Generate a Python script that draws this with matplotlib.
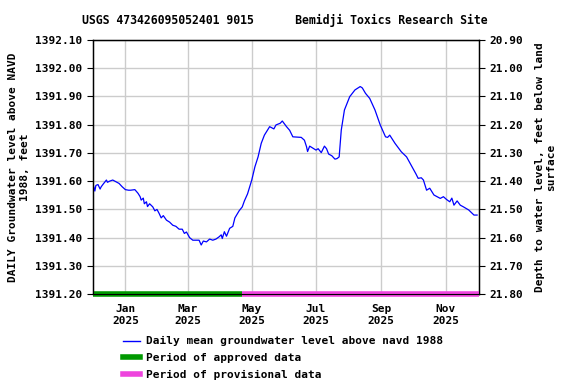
import matplotlib
matplotlib.use("Agg")
import matplotlib.pyplot as plt
from matplotlib.lines import Line2D
import datetime as dt

# ---- data ----
dates = [
    "2024-12-01", "2024-12-02", "2024-12-03", "2024-12-04", "2024-12-06", "2024-12-08", "2024-12-09",
    "2024-12-11", "2024-12-14", "2024-12-15", "2024-12-17", "2024-12-20", "2024-12-23", "2024-12-26",
    "2024-12-29", "2025-01-01", "2025-01-04", "2025-01-06", "2025-01-10", "2025-01-13", "2025-01-15",
    "2025-01-16", "2025-01-18", "2025-01-19", "2025-01-21", "2025-01-22", "2025-01-24", "2025-01-27",
    "2025-01-29", "2025-01-31", "2025-02-02", "2025-02-04", "2025-02-06", "2025-02-09", "2025-02-12",
    "2025-02-15", "2025-02-18", "2025-02-21", "2025-02-24", "2025-02-26", "2025-02-28", "2025-03-03",
    "2025-03-06", "2025-03-09", "2025-03-12", "2025-03-14", "2025-03-16", "2025-03-19", "2025-03-22",
    "2025-03-25", "2025-03-28", "2025-03-31", "2025-04-02", "2025-04-03", "2025-04-05", "2025-04-07",
    "2025-04-10", "2025-04-13", "2025-04-15", "2025-04-19", "2025-04-22", "2025-04-24", "2025-04-27",
    "2025-05-01", "2025-05-04", "2025-05-07", "2025-05-10", "2025-05-13", "2025-05-18", "2025-05-22",
    "2025-05-24", "2025-05-28", "2025-05-30", "2025-06-03", "2025-06-06", "2025-06-09", "2025-06-17",
    "2025-06-20", "2025-06-22", "2025-06-23", "2025-06-25", "2025-07-01", "2025-07-03", "2025-07-06",
    "2025-07-09", "2025-07-11", "2025-07-13", "2025-07-16", "2025-07-19", "2025-07-21", "2025-07-23",
    "2025-07-25", "2025-07-28", "2025-08-02", "2025-08-07", "2025-08-12", "2025-08-14", "2025-08-17",
    "2025-08-21", "2025-08-26", "2025-08-31", "2025-09-05", "2025-09-07", "2025-09-09", "2025-09-14",
    "2025-09-20", "2025-09-25", "2025-10-01", "2025-10-04", "2025-10-06", "2025-10-09", "2025-10-11",
    "2025-10-13", "2025-10-14", "2025-10-17", "2025-10-21", "2025-10-24", "2025-10-27", "2025-10-30",
    "2025-11-02", "2025-11-05", "2025-11-07", "2025-11-09", "2025-11-12", "2025-11-15", "2025-11-18",
    "2025-11-23", "2025-11-28", "2025-12-01",
]
levels = [
    1391.550, 1391.580, 1391.565, 1391.585, 1391.588, 1391.572, 1391.580,
    1391.590, 1391.604, 1391.596, 1391.600, 1391.604, 1391.598, 1391.592,
    1391.580, 1391.570, 1391.568, 1391.568, 1391.570, 1391.557, 1391.545,
    1391.533, 1391.540, 1391.520, 1391.527, 1391.510, 1391.520, 1391.509,
    1391.495, 1391.500, 1391.486, 1391.470, 1391.478, 1391.462, 1391.455,
    1391.444, 1391.440, 1391.430, 1391.430, 1391.415, 1391.420, 1391.400,
    1391.391, 1391.391, 1391.391, 1391.374, 1391.388, 1391.385, 1391.395,
    1391.391, 1391.395, 1391.403, 1391.410, 1391.397, 1391.421, 1391.405,
    1391.433, 1391.440, 1391.470, 1391.495, 1391.509, 1391.530, 1391.555,
    1391.604, 1391.651, 1391.686, 1391.734, 1391.763, 1391.793, 1391.785,
    1391.799, 1391.805, 1391.813, 1391.793, 1391.780, 1391.757, 1391.755,
    1391.745, 1391.722, 1391.705, 1391.724, 1391.710, 1391.715, 1391.701,
    1391.724, 1391.715, 1391.696, 1391.690, 1391.678, 1391.680, 1391.686,
    1391.781, 1391.852, 1391.899, 1391.923, 1391.935, 1391.930, 1391.911,
    1391.893, 1391.852, 1391.799, 1391.757, 1391.755, 1391.763, 1391.734,
    1391.704, 1391.686, 1391.645, 1391.625, 1391.610, 1391.612, 1391.604,
    1391.580, 1391.568, 1391.575, 1391.551, 1391.545, 1391.539, 1391.545,
    1391.535, 1391.527, 1391.540, 1391.515, 1391.530, 1391.515, 1391.509,
    1391.498, 1391.480, 1391.480,
]
approved_period = ("2024-12-01", "2025-04-22")
provisional_period = ("2025-04-22", "2025-12-03")
month_ticks = ["2025-01-01", "2025-03-01", "2025-05-01", "2025-07-01", "2025-09-01", "2025-11-01"]
month_labels = ["Jan\n2025", "Mar\n2025", "May\n2025", "Jul\n2025", "Sep\n2025", "Nov\n2025"]
left_ticks = [1391.20, 1391.30, 1391.40, 1391.50, 1391.60, 1391.70, 1391.80, 1391.90, 1392.00, 1392.10]
land_surface = 1413.00  # depth = land_surface - level

def d(s):
    return dt.datetime.strptime(s, "%Y-%m-%d")

x = [d(s) for s in dates]

plt.rcParams['font.family'] = ['DejaVu Sans Mono']
plt.rcParams['font.weight'] = 'bold'
plt.rcParams['font.size'] = 8

fig = plt.figure(figsize=(5.76, 3.84), dpi=100)
ax = fig.add_axes([0.161, 0.234, 0.671, 0.662])

xmin, xmax = d("2024-12-01"), d("2025-12-03")
ax.set_xlim(xmin, xmax)
ax.set_ylim(1391.20, 1392.10)

ax.plot(x, levels, color="#0000ff", lw=0.9, zorder=3)

ax.plot([d(approved_period[0]), d(approved_period[1])], [1391.20, 1391.20],
        color="#009900", lw=4, solid_capstyle="butt", zorder=4, clip_on=False)
ax.plot([d(provisional_period[0]), d(provisional_period[1])], [1391.20, 1391.20],
        color="#ee44dd", lw=4, solid_capstyle="butt", zorder=4, clip_on=False)

ax.set_yticks(left_ticks)
ax.set_yticklabels([f"{v:.2f}" for v in left_ticks])
ax.set_xticks([d(s) for s in month_ticks])
ax.set_xticklabels(month_labels, linespacing=1.3)
ax.tick_params(axis='x', length=0, pad=7)
ax.tick_params(axis='y', length=4, direction='out')
ax.grid(True, color="#cccccc", lw=1)
ax.set_axisbelow(True)
for sp in ax.spines.values():
    sp.set_linewidth(1)

ax.set_ylabel("DAILY Groundwater level above NAVD\n1988, feet", fontsize=8, fontweight='bold', labelpad=4)

ax2 = ax.twinx()
ax2.set_ylim(land_surface - 1391.20, land_surface - 1392.10)
right_ticks = [land_surface - v for v in left_ticks]
ax2.set_yticks(right_ticks)
ax2.set_yticklabels([f"{v:.2f}" for v in right_ticks])
ax2.tick_params(axis='y', length=4, direction='out')
ax2.set_ylabel("Depth to water level, feet below land\nsurface", fontsize=8, fontweight='bold',
               rotation=90, labelpad=8)

fig.text(0.495, 0.948, "USGS 473426095052401 9015      Bemidji Toxics Research Site",
         ha='center', va='center', fontsize=8.3, fontweight='bold')

handles = [Line2D([], [], color="#0000ff", lw=1),
           Line2D([], [], color="#009900", lw=4),
           Line2D([], [], color="#ee44dd", lw=4)]
labels = ["Daily mean groundwater level above navd 1988",
          "Period of approved data",
          "Period of provisional data"]
fig.legend(handles, labels, loc='upper left', bbox_to_anchor=(0.213, 0.124),
           frameon=False, fontsize=8, handlelength=1.6, handletextpad=0.5,
           labelspacing=0.62, borderaxespad=0, borderpad=0)

fig.savefig("out.png", dpi=100)
